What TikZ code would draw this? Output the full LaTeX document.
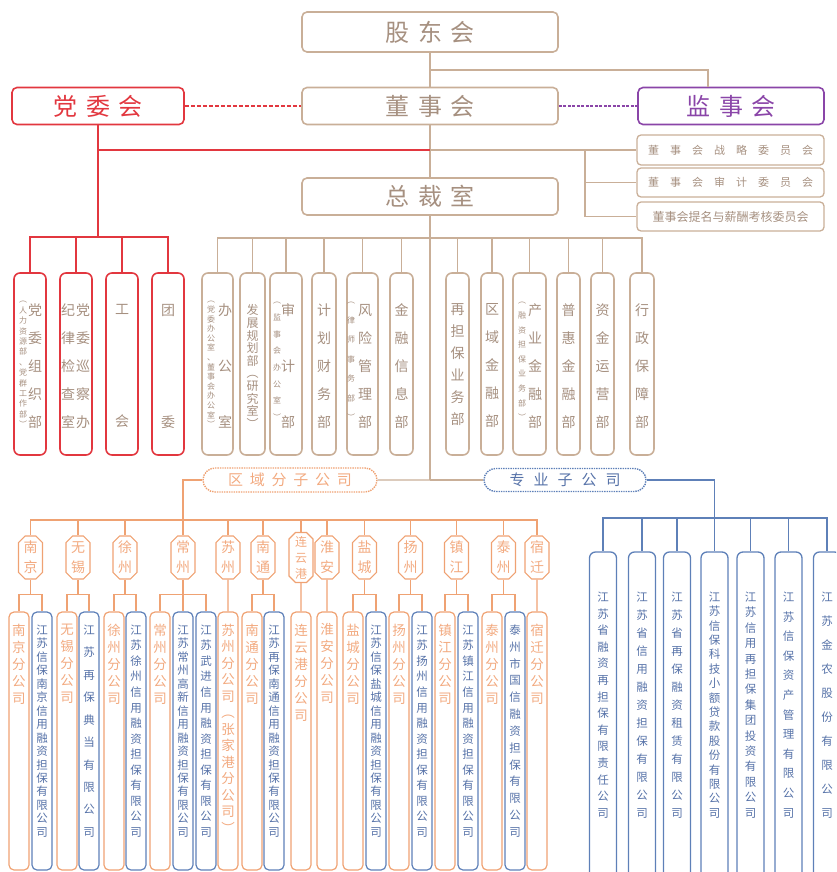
\documentclass[tikz,border=0pt]{standalone}
\usepackage{fontspec}
\setmainfont{Noto Sans CJK SC}
\usetikzlibrary{shapes.misc}
\definecolor{TanLine}{HTML}{C9AF98}
\definecolor{TanText}{HTML}{A69080}
\definecolor{PartyRed}{HTML}{E2373F}
\definecolor{SupPurple}{HTML}{8A45A8}
\definecolor{BranchOrange}{HTML}{EFA273}
\definecolor{OrangeText}{HTML}{F2AA80}
\definecolor{SubBlue}{HTML}{5E80B8}
\definecolor{BlueText}{HTML}{5672A8}

\begin{document}
\begin{tikzpicture}[
    x=1pt, y=-1pt,
    every node/.style={inner sep=0pt},
    headbox/.style={rectangle, draw=TanLine, line width=1.6pt, rounded corners=5pt, minimum width=256pt, minimum height=37pt, text=TanText, font=\fontsize{24}{26}\selectfont},
    combox/.style={rectangle, draw=TanLine, line width=1.3pt, rounded corners=4pt, minimum width=187pt, minimum height=29pt, text=TanText, font=\fontsize{11}{13}\selectfont},
    partybox/.style={rectangle, draw=PartyRed, line width=1.6pt, rounded corners=6pt, minimum width=32pt, minimum height=182pt},
    deptbox/.style={rectangle, draw=TanLine, line width=1.6pt, rounded corners=6pt, minimum width=#1, minimum height=182pt},
    dtext/.style={text=TanText, align=center, font=\fontsize{14}{#1}\selectfont},
    dtext/.default=28pt,
    dnarrow/.style={text=TanText, align=center, font=\fontsize{12}{#1}\selectfont},
    dsmall/.style={text=TanText, align=center, font=\fontsize{8}{#1}\selectfont},
    qypill/.style={rounded rectangle, draw=BranchOrange, densely dotted, line width=1.4pt, minimum width=174pt, minimum height=24pt, text=OrangeText, font=\fontsize{15}{17}\selectfont},
    zypill/.style={rounded rectangle, draw=SubBlue, densely dotted, line width=1.4pt, minimum width=162pt, minimum height=23pt, text=BlueText, font=\fontsize{15}{17}\selectfont},
    citytag/.style={chamfered rectangle, chamfered rectangle xsep=3pt, draw=BranchOrange, line width=1.2pt, minimum width=24pt, minimum height=43pt, text=OrangeText, align=center, font=\fontsize{14}{20}\selectfont},
    obox/.style={rectangle, draw=BranchOrange, line width=1.2pt, rounded corners=5pt, minimum width=20pt, minimum height=258pt},
    bbox/.style={rectangle, draw=SubBlue, line width=1.2pt, rounded corners=5pt, minimum width=20pt, minimum height=258pt},
    bigbox/.style={rectangle, draw=SubBlue, line width=1.3pt, rounded corners=6pt, minimum width=27pt, minimum height=348pt},
    otext/.style={text=OrangeText, align=center, anchor=north, font=\fontsize{13.5}{17}\selectfont},
    btext/.style={text=BlueText, align=center, font=\fontsize{11.5}{#1}\selectfont},
    tline/.style={draw=TanLine, line width=1.2pt},
    redline/.style={draw=PartyRed, line width=1.4pt},
    reddash/.style={draw=PartyRed, line width=1.2pt, dash pattern=on 4pt off 2pt},
    purpledash/.style={draw=SupPurple, line width=1.2pt, dash pattern=on 3pt off 1.5pt},
    oline/.style={draw=BranchOrange, line width=1.2pt},
    bline/.style={draw=SubBlue, line width=1.2pt}
  ]
    \useasboundingbox (0,0) rectangle (836,872);
    \clip (0,0) rectangle (836,872);

    % Top level
    \node[headbox, minimum height=40pt] (gdh) at (430,32) {股\hspace{.35em}东\hspace{.35em}会};
    \node[headbox] (dsh) at (430,106) {董\hspace{.35em}事\hspace{.35em}会};
    \node[headbox, draw=PartyRed, text=PartyRed, minimum width=172pt] (dwh) at (98,106) {党\hspace{.35em}委\hspace{.35em}会};
    \node[headbox, draw=SupPurple, text=SupPurple, minimum width=186pt] (jsh) at (731,106) {监\hspace{.35em}事\hspace{.35em}会};
    \node[headbox] (zcs) at (430,196.5) {总\hspace{.35em}裁\hspace{.35em}室};

    % Board committees
    \node[combox, minimum height=30pt] (com1) at (730.5,150) {董\quad 事\quad 会\quad 战\quad 略\quad 委\quad 员\quad 会};
    \node[combox] (com2) at (730.5,182.5) {董\quad 事\quad 会\quad 审\quad 计\quad 委\quad 员\quad 会};
    \node[combox, font=\fontsize{12}{14}\selectfont] (com3) at (730.5,216.5) {董事会提名与薪酬考核委员会};

    \coordinate (gj) at (430,70);
    \draw[tline] (gdh) -- (dsh);
    \draw[tline] (gj) -| ([xshift=-23pt]jsh.north);
    \draw[reddash] (dwh) -- (dsh);
    \draw[purpledash] (dsh) -- (jsh);
    \draw[tline] (dsh) -- (zcs);

    \coordinate (rj) at (98,150);
    \coordinate (mj) at (430,150);
    \coordinate (cj) at (585,150);
    \draw[redline] (rj) -- (mj);
    \draw[tline] (mj) -- (com1.west);
    \draw[tline] (cj) |- (com2.west);
    \draw[tline] (cj) |- (com3.west);

    % Party organisations
    \node[partybox] (p1) at (30,364) {};
    \node[partybox] (p2) at (76,364) {};
    \node[partybox] (p3) at (122,364) {};
    \node[partybox] (p4) at (168,364) {};
    \node[dtext] (p1-t) at (35,366) {党\\委\\组\\织\\部};
    \node[dsmall=10.4pt] (p1-s) at (23,364.5) {︵\\人\\力\\资\\源\\部\\、\\党\\群\\工\\作\\部\\︶};
    \node[dtext] (p2-t) at (83,366) {党\\委\\巡\\察\\办};
    \node[dtext] (p2-s) at (68,366) {纪\\律\\检\\查\\室};
    \node[dtext=112pt] (p3-t) at (122,366) {工\\会};
    \node[dtext=112pt] (p4-t) at (168,366) {团\\委};

    \coordinate (rb) at (98,237);
    \draw[redline] (dwh) -- (rb);
    \foreach \i in {1,...,4}
      \draw[redline] (rb) -| (p\i.north);

    % Departments
    \node[deptbox=31pt] (d1) at (217.5,364) {};
    \node[deptbox=25pt] (d2) at (252.5,364) {};
    \node[deptbox=32pt] (d3) at (286,364) {};
    \node[deptbox=24pt] (d4) at (324,364) {};
    \node[deptbox=31pt] (d5) at (362.5,364) {};
    \node[deptbox=23pt] (d6) at (401.5,364) {};
    \node[deptbox=23pt] (d7) at (457.5,364) {};
    \node[deptbox=22pt] (d8) at (492,364) {};
    \node[deptbox=33pt] (d9) at (529.5,364) {};
    \node[deptbox=23pt] (d10) at (568.5,364) {};
    \node[deptbox=23pt] (d11) at (602.5,364) {};
    \node[deptbox=24pt] (d12) at (642,364) {};

    \node[dtext=56pt] (d1-t) at (225,366) {办\\公\\室};
    \node[dsmall=9.6pt] (d1-s) at (211,364.5) {︵\\党\\委\\办\\公\\室\\、\\董\\事\\会\\办\\公\\室\\︶};
    \node[dnarrow=12.6pt] (d2-t) at (252.5,366.5) {发\\展\\规\\划\\部\\︵\\研\\究\\室\\︶};
    \node[dtext=56pt] (d3-t) at (288,366) {审\\计\\部};
    \node[dsmall=16.7pt] (d3-s) at (277,361.5) {︵\\监\\事\\会\\办\\公\\室\\︶};
    \node[dtext] (d4-t) at (324,366) {计\\划\\财\\务\\部};
    \node[dtext] (d5-t) at (365,366) {风\\险\\管\\理\\部};
    \node[dsmall=19.5pt] (d5-s) at (351,361.5) {︵\\律\\师\\事\\务\\部\\︶};
    \node[dtext] (d6-t) at (401.5,366) {金\\融\\信\\息\\部};
    \node[dtext=22pt] (d7-t) at (457.5,365) {再\\担\\保\\业\\务\\部};
    \node[dtext] (d8-t) at (492,366) {区\\域\\金\\融\\部};
    \node[dtext] (d9-t) at (535,366) {产\\业\\金\\融\\部};
    \node[dsmall=14.6pt] (d9-s) at (522,361.5) {︵\\融\\资\\担\\保\\业\\务\\部\\︶};
    \node[dtext] (d10-t) at (568.5,366) {普\\惠\\金\\融\\部};
    \node[dtext] (d11-t) at (602.5,366) {资\\金\\运\\营\\部};
    \node[dtext] (d12-t) at (642,366) {行\\政\\保\\障\\部};

    \coordinate (kb) at (430,238);
    \coordinate (kj) at (430,480);
    \draw[tline] (zcs) -- (kj);
    \foreach \i in {1,...,12}
      \draw[tline] (kb) -| (d\i.north);

    % Subsidiaries
    \node[qypill] (qy) at (290,480) {区\hspace{.45em}域\hspace{.45em}分\hspace{.45em}子\hspace{.45em}公\hspace{.45em}司};
    \node[zypill] (zy) at (565,480) {专\hspace{.6em}业\hspace{.6em}子\hspace{.6em}公\hspace{.6em}司};
    \draw[tline] (kj) -- (qy);
    \draw[tline] (kj) -- (zy);

    % Regional tags
    \node[citytag] (nj) at (30.5,557.5) {南\\京};
    \node[citytag] (wx) at (78,557.5) {无\\锡};
    \node[citytag] (xz) at (125,557.5) {徐\\州};
    \node[citytag] (cz) at (183,557.5) {常\\州};
    \node[citytag] (sz) at (228,557.5) {苏\\州};
    \node[citytag] (nt) at (263,557.5) {南\\通};
    \node[citytag, font=\fontsize{12}{16}\selectfont] (lyg) at (301,557.5) {连\\云\\港};
    \node[citytag] (ha) at (327,557.5) {淮\\安};
    \node[citytag] (yc) at (364.5,557.5) {盐\\城};
    \node[citytag] (yz) at (410.5,557.5) {扬\\州};
    \node[citytag] (zj) at (456.5,557.5) {镇\\江};
    \node[citytag] (tz) at (503.5,557.5) {泰\\州};
    \node[citytag] (sq) at (537,557.5) {宿\\迁};

    \coordinate (ob) at (183,520);
    \draw[oline] (qy.west) -| (cz.north);
    \foreach \t in {nj,wx,xz,sz,nt,lyg,ha,yc,yz,zj,tz,sq}
      \draw[oline] (ob) -| (\t.north);

    % Branches and local guarantee companies
    \node[obox] (nj1) at (19,741) {};
    \node[bbox] (nj2) at (42,741) {};
    \node[obox] (wx1) at (67,741) {};
    \node[bbox] (wx2) at (89,741) {};
    \node[obox] (xz1) at (114,741) {};
    \node[bbox] (xz2) at (136,741) {};
    \node[obox] (cz1) at (160,741) {};
    \node[bbox] (cz2) at (183,741) {};
    \node[bbox] (cz3) at (206,741) {};
    \node[obox] (sz1) at (228,741) {};
    \node[obox] (nt1) at (252,741) {};
    \node[bbox] (nt2) at (274,741) {};
    \node[obox] (lyg1) at (301,741) {};
    \node[obox] (ha1) at (327,741) {};
    \node[obox] (yc1) at (353,741) {};
    \node[bbox] (yc2) at (376,741) {};
    \node[obox] (yz1) at (399,741) {};
    \node[bbox] (yz2) at (422,741) {};
    \node[obox] (zj1) at (445,741) {};
    \node[bbox] (zj2) at (468,741) {};
    \node[obox] (tz1) at (492,741) {};
    \node[bbox] (tz2) at (515,741) {};
    \node[obox] (sq1) at (537,741) {};

    \node[otext] (nj1-t) at (19,623.5) {南\\京\\分\\公\\司};
    \node[btext=13.47pt] (nj2-t) at (42,731) {江\\苏\\信\\保\\南\\京\\信\\用\\融\\资\\担\\保\\有\\限\\公\\司};
    \node[otext] (wx1-t) at (67,623.5) {无\\锡\\分\\公\\司};
    \node[btext=22.44pt] (wx2-t) at (89,731) {江\\苏\\再\\保\\典\\当\\有\\限\\公\\司};
    \node[otext] (xz1-t) at (114,623.5) {徐\\州\\分\\公\\司};
    \node[btext=15.54pt] (xz2-t) at (136,731) {江\\苏\\徐\\州\\信\\用\\融\\资\\担\\保\\有\\限\\公\\司};
    \node[otext] (cz1-t) at (160,623.5) {常\\州\\分\\公\\司};
    \node[btext=13.47pt] (cz2-t) at (183,731) {江\\苏\\常\\州\\高\\新\\信\\用\\融\\资\\担\\保\\有\\限\\公\\司};
    \node[btext=15.54pt] (cz3-t) at (206,731) {江\\苏\\武\\进\\信\\用\\融\\资\\担\\保\\有\\限\\公\\司};
    \node[otext, font=\fontsize{13.5}{16.5}\selectfont] (sz1-t) at (228,623.5) {苏\\州\\分\\公\\司\\︵\\张\\家\\港\\分\\公\\司\\︶};
    \node[otext] (nt1-t) at (252,623.5) {南\\通\\分\\公\\司};
    \node[btext=13.47pt] (nt2-t) at (274,731) {江\\苏\\再\\保\\南\\通\\信\\用\\融\\资\\担\\保\\有\\限\\公\\司};
    \node[otext] (lyg1-t) at (301,623.5) {连\\云\\港\\分\\公\\司};
    \node[otext] (ha1-t) at (327,623.5) {淮\\安\\分\\公\\司};
    \node[otext] (yc1-t) at (353,623.5) {盐\\城\\分\\公\\司};
    \node[btext=13.47pt] (yc2-t) at (376,731) {江\\苏\\信\\保\\盐\\城\\信\\用\\融\\资\\担\\保\\有\\限\\公\\司};
    \node[otext] (yz1-t) at (399,623.5) {扬\\州\\分\\公\\司};
    \node[btext=15.54pt] (yz2-t) at (422,731) {江\\苏\\扬\\州\\信\\用\\融\\资\\担\\保\\有\\限\\公\\司};
    \node[otext] (zj1-t) at (445,623.5) {镇\\江\\分\\公\\司};
    \node[btext=15.54pt] (zj2-t) at (468,731) {江\\苏\\镇\\江\\信\\用\\融\\资\\担\\保\\有\\限\\公\\司};
    \node[otext] (tz1-t) at (492,623.5) {泰\\州\\分\\公\\司};
    \node[btext=16.83pt] (tz2-t) at (515,731) {泰\\州\\市\\国\\信\\融\\资\\担\\保\\有\\限\\公\\司};
    \node[otext] (sq1-t) at (537,623.5) {宿\\迁\\分\\公\\司};

    \foreach \t/\a/\b in {nj/nj1/nj2, wx/wx1/wx2, xz/xz1/xz2, nt/nt1/nt2, yc/yc1/yc2, yz/yz1/yz2, zj/zj1/zj2, tz/tz1/tz2} {
      \draw[oline] (\t.south) -- ++(0,15) coordinate (\t-j);
      \draw[oline] (\t-j) -| (\a.north);
      \draw[oline] (\t-j) -| (\b.north);
    }
    \draw[oline] (cz.south) -- ++(0,15) coordinate (cz-j);
    \draw[oline] (cz-j) -| (cz1.north);
    \draw[oline] (cz-j) -- (cz2.north);
    \draw[oline] (cz-j) -| (cz3.north);
    \foreach \t/\a in {sz/sz1, lyg/lyg1, ha/ha1, sq/sq1}
      \draw[oline] (\t) -- (\a);

    % Specialised subsidiaries
    \node[bigbox] (s1) at (603,726) {};
    \node[bigbox] (s2) at (642,726) {};
    \node[bigbox] (s3) at (677,726) {};
    \node[bigbox] (s4) at (714.5,726) {};
    \node[bigbox] (s5) at (750.5,726) {};
    \node[bigbox] (s6) at (788.5,726) {};
    \node[bigbox] (s7) at (827,726) {};
    \node[btext=16.6pt] (s1-t) at (603,705) {江\\苏\\省\\融\\资\\再\\担\\保\\有\\限\\责\\任\\公\\司};
    \node[btext=18pt] (s2-t) at (642,705) {江\\苏\\省\\信\\用\\融\\资\\担\\保\\有\\限\\公\\司};
    \node[btext=18pt] (s3-t) at (677,705) {江\\苏\\省\\再\\保\\融\\资\\租\\赁\\有\\限\\公\\司};
    \node[btext=14.4pt] (s4-t) at (714.5,705) {江\\苏\\信\\保\\科\\技\\小\\额\\贷\\款\\股\\份\\有\\限\\公\\司};
    \node[btext=15.4pt] (s5-t) at (750.5,705) {江\\苏\\信\\用\\再\\担\\保\\集\\团\\投\\资\\有\\限\\公\\司};
    \node[btext=19.6pt] (s6-t) at (788.5,705) {江\\苏\\信\\保\\资\\产\\管\\理\\有\\限\\公\\司};
    \node[btext=24pt] (s7-t) at (827,705) {江\\苏\\金\\农\\股\\份\\有\\限\\公\\司};

    \coordinate (bb) at (714.5,518);
    \draw[bline] (zy.east) -| (s4.north);
    \foreach \i in {1,2,3,5,6,7}
      \draw[bline] (bb) -| (s\i.north);

  \end{tikzpicture}
\end{document}
